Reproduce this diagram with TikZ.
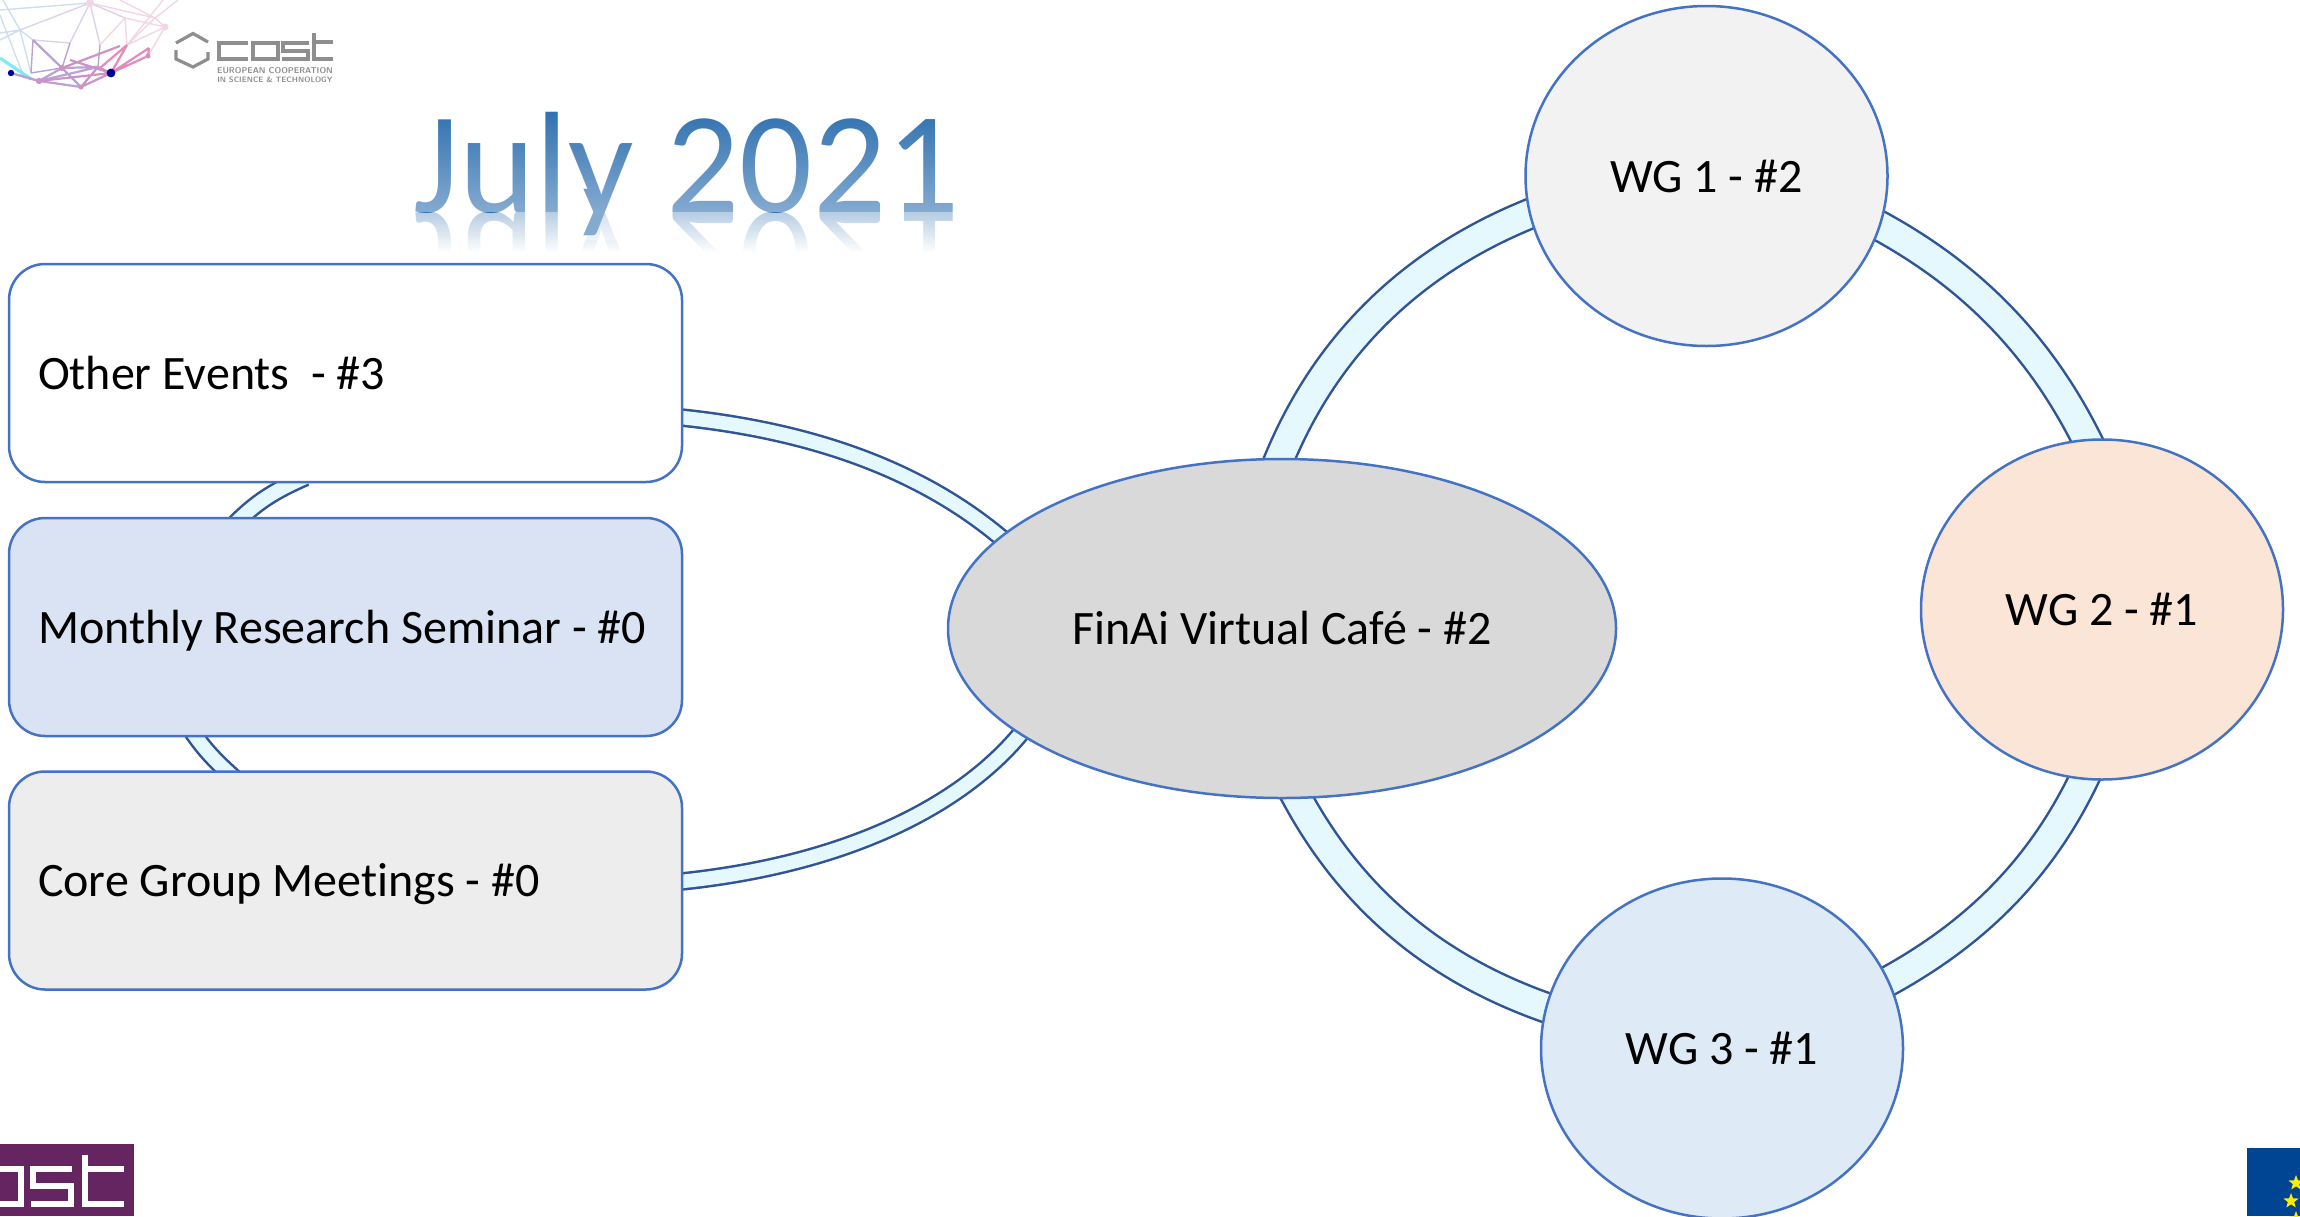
\documentclass[tikz,border=0pt]{standalone}
\usepackage{fontspec}
\setmainfont{Carlito}[Ligatures=NoCommon]
\usetikzlibrary{shapes.geometric}
\pgfdeclarelayer{conn}
\pgfsetlayers{conn,main}
\definecolor{nodeline}{HTML}{4472C4}
\definecolor{bandline}{HTML}{2F5597}
\definecolor{bandfill}{HTML}{E4F8FD}
\definecolor{costgrey}{HTML}{8E8E8E}
\definecolor{costpurple}{HTML}{642560}
\definecolor{eublue}{HTML}{004494}
\definecolor{eustar}{HTML}{FFED00}
\definecolor{titleblue}{HTML}{2A6DAE}
\definecolor{meshblue}{HTML}{CFDDF0}
\definecolor{meshlav}{HTML}{DCD3EA}
\definecolor{meshpink}{HTML}{F3D5E5}
\definecolor{meshpurple}{HTML}{B9A2D4}
\definecolor{meshmauve}{HTML}{CE93C4}
\definecolor{meshrose}{HTML}{E58BBB}
\newcommand{\boxlabel}[1]{\makebox[307.5pt][l]{#1}}
\tikzset{
  ovalnode/.style={ellipse,draw=nodeline,line width=1.25pt,inner sep=0pt,outer sep=0pt,
    text height=20pt,text depth=4pt,font=\fontsize{24}{28}\selectfont,text=black},
  wgnode/.style={ovalnode,minimum width=181pt,minimum height=170pt},
  boxnode/.style={rectangle,rounded corners=18pt,draw=nodeline,line width=1.25pt,outer sep=0pt,
    minimum width=336.5pt,minimum height=109pt,inner xsep=14.5pt,
    text height=20pt,text depth=4pt,
    font=\fontsize{24}{28}\selectfont,text=black},
  wideband/.style={draw=bandline,line width=1.25pt,double=bandfill,double distance=13.5pt,shorten <=-8pt,shorten >=-8pt},
  thinband/.style={draw=bandline,line width=1.25pt,double=bandfill,double distance=6.8pt,shorten <=-6pt,shorten >=-6pt},
  titlefont/.style={font=\fontsize{72.2}{80}\selectfont,inner sep=0pt,outer sep=0pt,anchor=base,text=titleblue},
  eustarnode/.style={star,star points=5,star point ratio=2.4,fill=eustar,inner sep=0pt,minimum size=8pt},
  costbar/.style={draw=costgrey,line width=1.6pt,line cap=butt,line join=miter},
  costwhite/.style={draw=white,line width=2.8pt,line cap=butt,line join=miter},
  meshthin/.style={line width=.7pt,draw=#1},
  meshthick/.style={line width=1.1pt,draw=#1}
}
\begin{document}
\begin{tikzpicture}[x=.5pt,y=-.5pt]
\useasboundingbox (0,0) rectangle (2300,1216);

% title reflection, faded by white strips
\node[titlefont,yscale=-1,transform shape] (titlerefl) at (686.5,212) {July 2021};
\foreach \n in {0,...,20}{
  \pgfmathsetmacro{\opa}{min(1,0.66+0.34*\n/20)}
  \fill[white,fill opacity=\opa] (400,212+2*\n) rectangle (970,214+2*\n);
}
\fill[white] (400,254) rectangle (970,330);
% title, shaded by white strips
\node[titlefont] (title) at (686.5,212) {July 2021};
\foreach \n in {0,...,50}{
  \pgfmathsetmacro{\opa}{0.03+0.39*\n/50}
  \fill[white,fill opacity=\opa] (400,110+2*\n) rectangle (970,112+2*\n);
}
\foreach \n in {0,...,13}{
  \fill[white,fill opacity=0.42] (580,212+2*\n) rectangle (630,214+2*\n);
}

% nodes
\node[boxnode,fill=white] (other) at (345.5,373) {\boxlabel{Other Events~ - \#3}};
\node[boxnode,fill={rgb,255:red,218;green,227;blue,243}] (monthly) at (345.5,627) {\boxlabel{Monthly Research Seminar - \#0}};
\node[boxnode,fill={rgb,255:red,237;green,237;blue,237}] (core) at (345.5,880.5) {\boxlabel{Core Group Meetings - \#0}};
\node[ovalnode,minimum width=334pt,minimum height=169.5pt,fill={rgb,255:red,217;green,217;blue,217}] (fin) at (1282,628.5) {FinAi Virtual Café - \#2};
\node[wgnode,fill={rgb,255:red,242;green,242;blue,242}] (wg1) at (1706.5,176) {WG 1 - \#2};
\node[wgnode,fill={rgb,255:red,251;green,229;blue,214}] (wg2) at (2102,609.5) {WG 2 - \#1};
\node[wgnode,fill={rgb,255:red,222;green,234;blue,246}] (wg3) at (1722,1048.5) {WG 3 - \#1};

% connectors
\begin{pgfonlayer}{conn}
\draw[wideband] (fin.91.4) .. controls (1322,346.2) and (1413.9,256.8) .. (wg1.192);
\draw[wideband] (wg1.-16.9) .. controls (1970.5,272.4) and (2043.7,347.4) .. (wg2.95.7);
\draw[wideband] (wg2.264) .. controls (2045.3,866) and (1975.8,935.8) .. (wg3.22);
\draw[wideband] (wg3.167) .. controls (1439,973.2) and (1348.7,900.3) .. (fin.275);
\draw[thinband] ([yshift=-22.25pt]other.east) .. controls (816,430) and (928,473) .. (fin.162.8);
\draw[thinband] (fin.202.1) .. controls (963,810) and (835.5,867.5) .. ([yshift=-0.5pt]core.east);
\draw[thinband] ([xshift=-59.25pt]core.north) .. controls (213,759) and (203,748) .. ([xshift=-75.25pt]monthly.south);
\draw[thinband] ([xshift=-52.5pt]monthly.north) .. controls (256,502) and (274,491) .. ([xshift=-25.5pt]other.south);
\end{pgfonlayer}

% COST mesh logo
\draw[meshthin=meshblue] (0,10)--(90,3) (20,30)--(0,40) (20,30)--(3,0) (20,30)--(33,40) (0,33)--(20,30) (20,30)--(31,73) (0,15)--(22,72);
\draw[meshthin=meshlav] (20,30)--(90,3) (33,40)--(70,43) (33,40)--(62,68) (90,3)--(70,43) (90,3)--(100,45) (90,3)--(125,18);
\draw[meshthin=meshpink] (90,3)--(155,18) (125,18)--(100,45) (125,18)--(127,45) (125,18)--(165,27) (155,18)--(127,45) (155,18)--(165,27) (155,18)--(178,0) (165,27)--(148,56) (165,27)--(127,45) (120,0)--(155,18) (163,0)--(127,45) (178,0)--(155,18);
\draw[meshthin=meshpurple] (33,40)--(31,73) (70,43)--(62,68) (100,45)--(98,67) (31,73)--(62,68);
\draw[meshthick=meshpurple] (33,40)--(62,68) (62,68)--(98,67) (62,68)--(39,81) (39,81)--(81,87) (62,68)--(81,87) (39,81)--(98,67);
\draw[meshthick=meshmauve] (98,67)--(111,73) (81,87)--(111,73) (62,68)--(120,46) (39,81)--(111,73) (98,67)--(81,87) (70,60)--(111,73);
\draw[meshthick=meshrose] (111,73)--(148,56) (127,45)--(111,73) (148,56)--(149,48) (111,73)--(149,48) (100,68)--(127,45);
\draw[line width=1.6pt,draw=meshblue!60!cyan] (0,58)--(31,79);
\draw[line width=1.2pt,draw=meshpurple] (11,73)--(39,81);
\fill[blue!60!black] (11,73) circle (3.2) (111,73) circle (4.4);
\fill[meshmauve] (81,87) circle (2.5) (148,56) circle (2.5) (39,81) circle (3.2) (62,68) circle (3);
\fill[meshpink] (165,27) circle (3.5) (90,3) circle (4);

% COST small wordmark
\draw[costbar] (176,43)--(193,33.5)--(208,42);
\draw[costbar] (208,52)--(208,59)--(193,67)--(176,59)--(176,50);
\draw[costbar] (248,43)--(219,43)--(219,59)--(248,59);
\draw[costbar] (253,43)--(278,43)--(278,59)--(253,59)--cycle;
\draw[costbar] (309,43)--(283,43)--(283,51)--(308,51)--(308,59)--(282,59);
\draw[costbar] (314,33)--(314,59)--(333,59) (314,42)--(333,42);
\node[inner sep=0pt,text=costgrey,font=\fontsize{4.2}{5}\sffamily\bfseries] (costa) at (275,71) {EUROPEAN COOPERATION};
\node[inner sep=0pt,text=costgrey,font=\fontsize{3.9}{5}\sffamily\bfseries] (costb) at (275,80) {IN SCIENCE \& TECHNOLOGY};

% purple COST logo, bottom left
\fill[costpurple] (0,1144) rectangle (134,1216);
\draw[costwhite] (0,1169)--(21,1169)--(21,1204)--(0,1204);
\draw[costwhite] (72,1169)--(33,1169)--(33,1186)--(71,1186)--(71,1204)--(31,1204);
\draw[costwhite] (85,1155)--(85,1204)--(124,1204) (85,1169)--(124,1169);

% EU flag, bottom right
\fill[eublue] (2247,1148) rectangle (2300,1216);
\node[eustarnode] (stara) at (2296,1183) {};
\node[eustarnode] (starb) at (2291,1201) {};
\node[eustarnode] (starc) at (2296,1219) {};
\end{tikzpicture}
\end{document}
